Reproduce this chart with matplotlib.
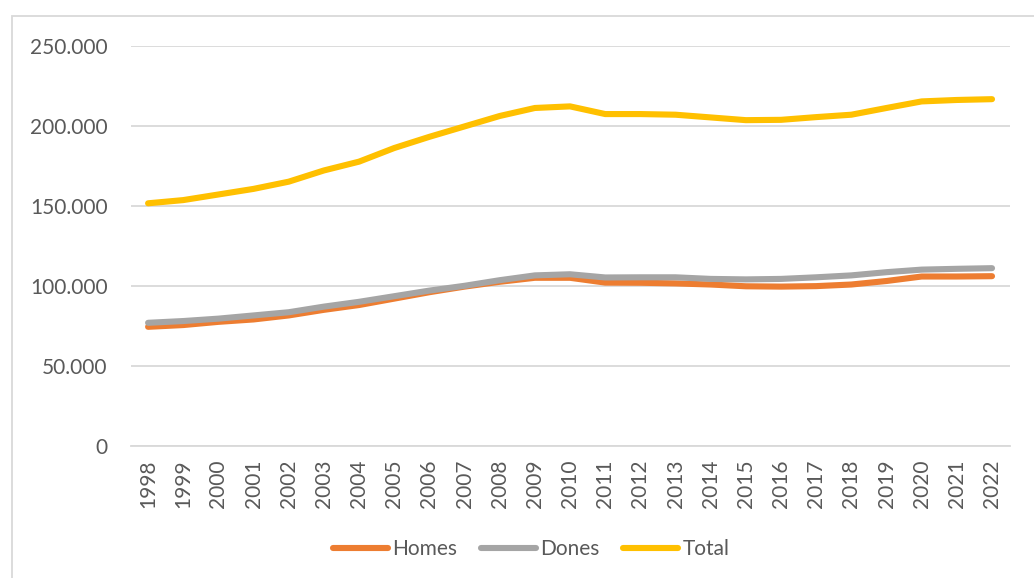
import numpy as np
import matplotlib
matplotlib.use("Agg")
from matplotlib import pyplot as plt
from matplotlib.patches import Rectangle
from matplotlib.ticker import FuncFormatter

#-----data-----#
years = list(range(1998, 2023))
homes = [74400, 75500, 77500, 79000, 81500, 85000, 88000, 92000, 96000, 99500,
         102500, 105000, 105000, 102000, 101900, 101500, 100800, 99700, 99500, 99800,
         100800, 103000, 105800, 105800, 106000]
dones = [76900, 78000, 79500, 81500, 83500, 87000, 90000, 93500, 97000, 100000,
         103500, 106500, 107200, 105200, 105300, 105300, 104300, 104000, 104300, 105300,
         106500, 108500, 110100, 110600, 111000]
total = [151500, 153500, 157000, 160500, 165000, 172000, 177500, 186000, 193000, 199500,
         206000, 211000, 212000, 207200, 207200, 206800, 205100, 203400, 203600, 205300,
         206800, 211000, 215100, 216000, 216500]

series_names = ["Homes", "Dones", "Total"]
series_colors = ["#ED7D31", "#A5A5A5", "#FFC000"]

plt.rcParams['font.family'] = ['Lato', 'DejaVu Sans']
text_col = "#595959"
fs = 15

fig = plt.figure(figsize=(10.34, 5.78), dpi=100)
ax = fig.add_axes([130.5/1034, 1-446/578, (1009.6-130.5)/1034, (446-45.5)/578])

x = np.arange(len(years))
for vals, name, col in zip([homes, dones, total], series_names, series_colors):
    ax.plot(x, vals, color=col, lw=4.4, label=name, solid_capstyle='round', solid_joinstyle='round')

ax.set_xlim(-0.5, len(years) - 0.5)
ax.set_ylim(0, 250000)
ax.set_yticks(np.arange(0, 250001, 50000))
ax.yaxis.set_major_formatter(FuncFormatter(lambda v, p: f"{int(v):,}".replace(",", ".")))
ax.set_xticks(x)
ax.set_xticklabels([str(y) for y in years], rotation=90)

ax.grid(axis='y', color="#D9D9D9", lw=1.3)
ax.set_axisbelow(True)
for s in ax.spines.values():
    s.set_visible(False)
ax.spines['bottom'].set_visible(True)
ax.spines['bottom'].set_color("#D9D9D9")
ax.spines['bottom'].set_linewidth(1.3)
ax.tick_params(axis='y', length=0, pad=16.5, labelsize=fs, labelcolor=text_col)
ax.tick_params(axis='x', length=0, pad=10, labelsize=fs, labelcolor=text_col)

leg = fig.legend(loc='center', bbox_to_anchor=(531/1034, 1-549/578), ncol=3, frameon=False,
                 fontsize=fs, handlelength=2.64, handletextpad=0.2, columnspacing=1.15)
for t in leg.get_texts():
    t.set_color(text_col)

#chart border
fig.patches.append(Rectangle((12/1034, -0.1), 1.2, 1-16/578+0.1, transform=fig.transFigure,
                             fill=False, edgecolor="#D9D9D9", lw=1.3))

fig.savefig("out.png", dpi=100)
